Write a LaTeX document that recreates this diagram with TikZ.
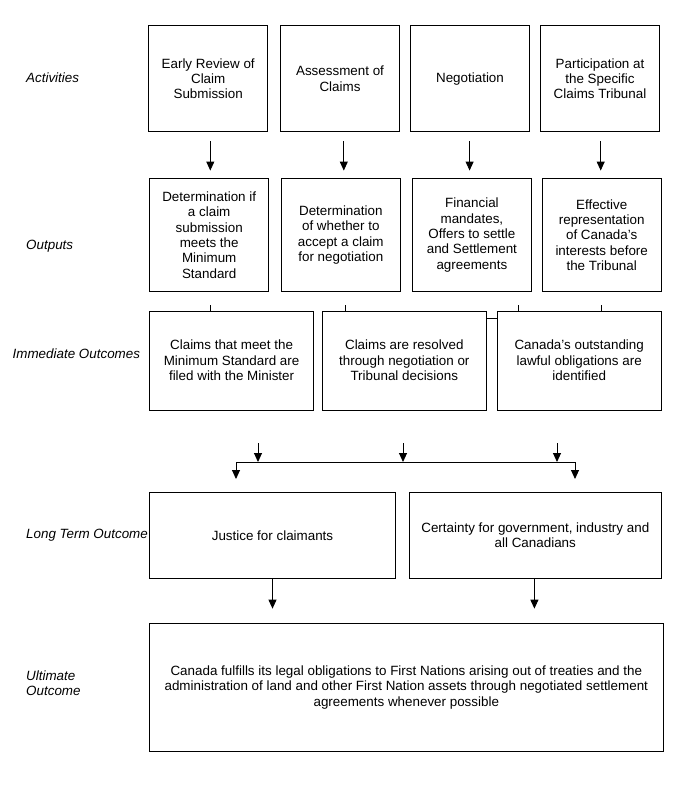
\documentclass[tikz,border=0pt]{standalone}
\usepackage{fontspec}
\setmainfont{Liberation Sans}
\usetikzlibrary{arrows.meta,calc}
\tikzset{
  box/.style={draw=black, line width=0.9pt, fill=white, align=center, inner sep=2pt,
    font=\fontsize{13.4pt}{15.4pt}\selectfont},
  lbl/.style={anchor=west, inner sep=0pt, font=\fontsize{13.4pt}{15.4pt}\selectfont\itshape, align=left},
  arr/.style={line width=0.9pt, -{Triangle[length=9pt,width=8pt]}},
  ln/.style={line width=0.9pt}
}
\begin{document}
\begin{tikzpicture}[x=1pt,y=-1pt]
\useasboundingbox[fill=white] (0,0) rectangle (688,785);

% Labels
\node[lbl] (la) at (26,77.5) {Activities};
\node[lbl] (lo) at (26,246.5) {Outputs};
\node[lbl] (li) at (12.5,354) {Immediate Outcomes};
\node[lbl] (ll) at (26,535) {Long Term Outcome};
\node[lbl] (lu) at (26,683.5) {Ultimate\\Outcome};

% Activities
\node[box, minimum width=119.3pt, minimum height=105.8pt] (A1) at (208.2,78.7) {Early Review of\\Claim\\Submission};
\node[box, minimum width=119.3pt, minimum height=105.8pt] (A2) at (340,78.7) {Assessment of\\Claims};
\node[box, minimum width=119.3pt, minimum height=105.8pt] (A3) at (470,78.7) {Negotiation};
\node[box, minimum width=119.3pt, minimum height=105.8pt] (A4) at (600,78.7) {Participation at\\the Specific\\Claims Tribunal};

% Outputs
\node[box, minimum width=119.3pt, minimum height=113.2pt] (O1) at (209.2,235.1) {Determination if\\a claim\\submission\\meets the\\Minimum\\Standard};
\node[box, minimum width=119.3pt, minimum height=113.2pt] (O2) at (340.8,235.1) {Determination\\of whether to\\accept a claim\\for negotiation};
\node[box, minimum width=119.3pt, minimum height=113.2pt] (O3) at (471.9,235.1) {Financial\\mandates,\\Offers to settle\\and Settlement\\agreements};
\node[box, minimum width=119.3pt, minimum height=113.2pt] (O4) at (601.7,235.1) {Effective\\representation\\of Canada’s\\interests before\\the Tribunal};

% Immediate outcomes
\node[box, minimum width=164.2pt, minimum height=98.7pt] (I1) at (231.6,360.6) {Claims that meet the\\Minimum Standard are\\filed with the Minister};
\node[box, minimum width=164.3pt, minimum height=98.7pt] (I2) at (404.3,360.6) {Claims are resolved\\through negotiation or\\Tribunal decisions};
\node[box, minimum width=163.9pt, minimum height=98.7pt] (I3) at (579.2,360.6) {Canada’s outstanding\\lawful obligations are\\identified};

% Long term outcomes
\node[box, minimum width=246pt, minimum height=85.5pt] (L1) at (272.5,535.3) {Justice for claimants};
\node[box, minimum width=251.8pt, minimum height=85.5pt] (L2) at (535.3,535.3) {Certainty for government, industry and\\all Canadians};

% Ultimate outcome
\node[box, minimum width=513.7pt, minimum height=127.4pt] (U) at (406.3,687.3) {Canada fulfills its legal obligations to First Nations arising out of treaties and the\\administration of land and other First Nation assets through negotiated settlement\\agreements whenever possible};

% Activities -> Outputs
\foreach \a/\o/\dx in {A1/O1/2.1, A2/O2/3.8, A3/O3/-0.4, A4/O4/0.7}{
  \draw[arr] ($(\a.south)+(\dx,9)$) -- ($(\a.south |- \o.north)+(\dx,-7.5)$);
}

% Short ticks between outputs and immediate outcomes
\draw[ln] ($(O1.south |- I1.north)+(0.8,-5.5)$) -- ($(O1.south |- I1.north)+(0.8,0)$);
\draw[ln] ($(O2.south |- I2.north)+(4.2,-5.5)$) -- ($(O2.south |- I2.north)+(4.2,0)$);
\draw[ln] ($(O3.south |- I3.north)+(46.1,-5.5)$) -- ($(O3.south |- I3.north)+(46.1,0)$);
\draw[ln] ($(O4.south |- I3.north)+(-0.7,-5.5)$) -- ($(O4.south |- I3.north)+(-0.7,0)$);

% Link between I2 and I3
\draw[ln] ($(I2.north east)+(0,7.4)$) -- ($(I3.north west)+(0,7.4)$);

% Bus to long-term outcomes
\coordinate (b1) at (258,462);
\coordinate (b2) at (403,462);
\coordinate (b3) at (557,462);
\coordinate (bl) at (236,462);
\coordinate (br) at (575,462);
\draw[arr] ($(b1)+(0,-19)$) -- (b1);
\draw[arr] ($(b2)+(0,-19)$) -- (b2);
\draw[arr] ($(b3)+(0,-19)$) -- (b3);
\draw[ln] (bl) -- (br);
\draw[arr] (bl) -- ++(0,17);
\draw[arr] (br) -- ++(0,17);

% Long term -> Ultimate
\draw[arr] (L1.south) -- ($(L1.south |- U.north)+(0,-14.5)$);
\draw[arr] ($(L2.south)+(-0.9,0)$) -- ($(L2.south |- U.north)+(-0.9,-14.5)$);
\end{tikzpicture}
\end{document}
